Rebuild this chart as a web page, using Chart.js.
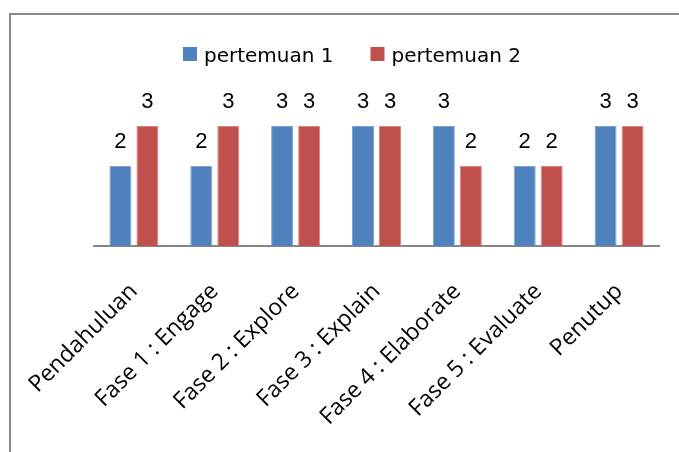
<!DOCTYPE html>
<html>
<head>
<meta charset="utf-8">
<script src="https://cdn.jsdelivr.net/npm/chart.js@4.4.0/dist/chart.umd.min.js"></script>
<style>
html, body { margin: 0; padding: 0; background: #fff; overflow: hidden; }
#wrap { position: relative; width: 679px; height: 452px; overflow: hidden; }
#frame { position: absolute; left: 9px; top: 13px; right: 0; bottom: 0; border-left: 2px solid #8a8a8a; border-top: 2px solid #8a8a8a; }
canvas { position: absolute; left: 0; top: 0; }
</style>
</head>
<body>
<div id="wrap">
  <div id="frame"></div>
  <canvas id="chart" width="679" height="452"></canvas>
</div>
<script>
// -------------------- Data --------------------
const categories = ["Pendahuluan", "Fase 1 : Engage", "Fase 2 : Explore", "Fase 3 : Explain",
                    "Fase 4 : Elaborate", "Fase 5 : Evaluate", "Penutup"];
const seriesNames = ["pertemuan 1", "pertemuan 2"];
const pertemuan1 = [2, 2, 3, 3, 3, 2, 3];
const pertemuan2 = [3, 3, 3, 3, 2, 2, 3];

const blue = "#4F81BD";
const red = "#C0504D";

// -------------------- Plugins --------------------
// value labels above each bar
const valueLabels = {
    id: "valueLabels",
    afterDatasetsDraw(chart) {
        const ctx = chart.ctx;
        ctx.save();
        ctx.font = "22px 'Liberation Sans', Arial, sans-serif";
        ctx.fillStyle = "#000";
        ctx.textAlign = "center";
        ctx.textBaseline = "alphabetic";
        chart.data.datasets.forEach((ds, i) => {
            chart.getDatasetMeta(i).data.forEach((bar, j) => {
                ctx.fillText(String(ds.data[j]), bar.x, bar.y - 18);
            });
        });
        ctx.restore();
    }
};

// legend on top, drawn like the original (small square + name)
const topLegend = {
    id: "topLegend",
    afterDraw(chart) {
        const ctx = chart.ctx;
        const centerX = 352;
        const box = 14, gapText = 7, gapItem = 37;
        ctx.save();
        ctx.font = "20px 'DejaVu Sans', sans-serif";
        const items = chart.data.datasets.map(ds => ({
            label: ds.label, color: ds.backgroundColor, w: ctx.measureText(ds.label).width
        }));
        let total = 0;
        items.forEach((it, i) => { total += box + gapText + it.w + (i ? gapItem : 0); });
        let x = centerX - total / 2;
        ctx.textBaseline = "alphabetic";
        ctx.textAlign = "left";
        items.forEach(it => {
            ctx.fillStyle = it.color;
            ctx.fillRect(x, 47, box, box);
            ctx.fillStyle = "#000";
            ctx.fillText(it.label, x + box + gapText, 62);
            x += box + gapText + it.w + gapItem;
        });
        ctx.restore();
    }
};

// -------------------- Chart --------------------
const ctx = document.getElementById("chart").getContext("2d");
const chart = new Chart(ctx, {
    type: "bar",
    data: {
        labels: categories,
        datasets: [
            { label: seriesNames[0], data: pertemuan1, backgroundColor: blue, borderColor: "#7ea3d2", borderWidth: 1 },
            { label: seriesNames[1], data: pertemuan2, backgroundColor: red, borderColor: "#d68784", borderWidth: 1 }
        ]
    },
    options: {
        responsive: false,
        animation: false,
        layout: { padding: { left: 93.5, right: 19.5, top: 86, bottom: 0 } },
        datasets: { bar: { categoryPercentage: 0.668, barPercentage: 0.815 } },
        plugins: { legend: { display: false }, tooltip: { enabled: false } },
        scales: {
            x: {
                grid: { display: false },
                border: { display: true, color: "#868686", width: 2 },
                ticks: {
                    color: "#000",
                    font: { family: "'Open Sans', sans-serif", size: 23 },
                    maxRotation: 45, minRotation: 45, autoSkip: false, padding: 24
                },
                afterFit(scale) { scale.height = 206; }
            },
            y: { display: false, min: 0, max: 4 }
        }
    },
    plugins: [valueLabels, topLegend]
});
</script>
</body>
</html>
